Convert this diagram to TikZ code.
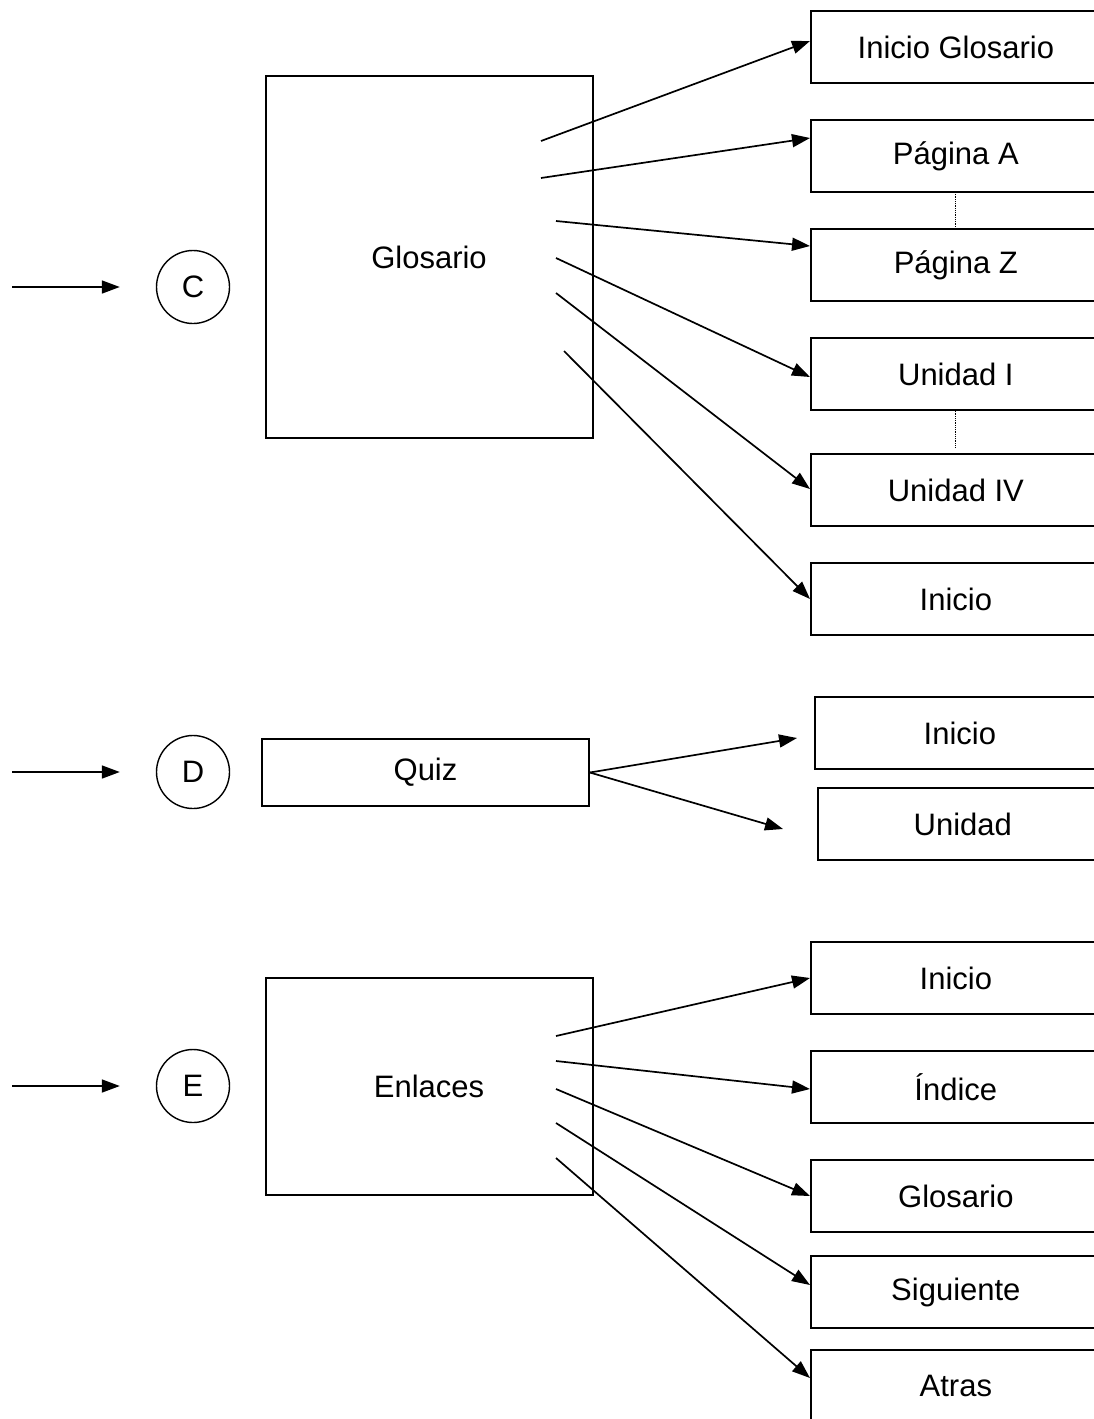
\documentclass[tikz,border=0pt]{standalone}
\usepackage{fontspec}
\setmainfont{Liberation Sans}
\usetikzlibrary{arrows.meta,calc}
\begin{document}
\begin{tikzpicture}[x=1pt,y=-1pt,
  every node/.style={font=\fontsize{31}{36}\selectfont},
  page/.style={draw,line width=1.7pt,rectangle,anchor=west,minimum width=290pt,minimum height=72pt,inner sep=0pt},
  main/.style={draw,line width=1.7pt,rectangle,inner sep=0pt},
  mark circle/.style={draw,line width=1.4pt,circle,minimum size=73pt,inner sep=0pt},
  link/.style={line width=1.7pt,-{Triangle[length=18pt,width=13pt]}},
  gap/.style={line width=0.8pt,densely dotted}]
\useasboundingbox (0,0) rectangle (1094,1419);

% --- section C: glossary ---
\node[mark circle] (C) at (193,287) {C};
\coordinate (inC) at (12,287);
\draw[link] (inC) -- ($(C.west)+(-36,0)$);
\node[main,minimum width=327pt,minimum height=362pt] (glos) at (429.5,257) {};
\node at (429,257) {Glosario};

\node[page] (ig) at (810,47) {Inicio Glosario};
\node[page] (pa) at (810,156) {Página A};
\node[page] (pz) at (810,265) {Página Z};
\node[page] (u1) at (810,374) {Unidad I};
\node[page] (u4) at (810,490) {Unidad IV};
\node[page] (ini1) at (810,599) {Inicio};

\coordinate (g1) at (541,141);
\coordinate (g2) at (541,178);
\coordinate (g3) at (556,221);
\coordinate (g4) at (556,258);
\coordinate (g5) at (556,293);
\coordinate (g6) at (564,351);
\draw[link] (g1) -- ($(ig.west)+(0,-6)$);
\draw[link] (g2) -- ($(pa.west)+(0,-18)$);
\draw[link] (g3) -- ($(pz.west)+(0,-19)$);
\draw[link] (g4) -- ($(u1.west)+(0,3)$);
\draw[link] (g5) -- ($(u4.west)+(0,-1)$);
\draw[link] (g6) -- (ini1.west);

\coordinate (dotA) at (955,192);
\coordinate (dotB) at (955,447);
\draw[gap] (dotA) -- (dotA |- pz.north);
\draw[gap] (dotA |- u1.south) -- (dotB);

% --- section D: quiz ---
\node[mark circle] (D) at (193,772) {D};
\coordinate (inD) at (12,772);
\draw[link] (inD) -- ($(D.west)+(-36,0)$);
\node[main,minimum width=327pt,minimum height=67pt] (quiz) at (425.5,772.5) {Quiz};
\node[page] (ini2) at (814,733) {Inicio};
\node[page] (uni) at (817,824) {Unidad};
\coordinate (q1) at (797,738);
\coordinate (q2) at (783,829);
\draw[link] (quiz.east) -- (q1);
\draw[link] (quiz.east) -- (q2);

% --- section E: links ---
\node[mark circle] (E) at (193,1086) {E};
\coordinate (inE) at (12,1086);
\draw[link] (inE) -- ($(E.west)+(-36,0)$);
\node[main,minimum width=327pt,minimum height=217pt] (enl) at (429.5,1086.5) {};
\node at (429,1086) {Enlaces};

\node[page] (ini3) at (810,978) {Inicio};
\node[page] (ind) at (810,1087) {Índice};
\node[page] (glo2) at (810,1196) {Glosario};
\node[page] (sig) at (810,1292) {Siguiente};
\node[page] (atr) at (810,1386) {Atras};

\coordinate (e1) at (556,1036);
\coordinate (e2) at (556,1061);
\coordinate (e3) at (556,1089);
\coordinate (e4) at (556,1123);
\coordinate (e5) at (556,1158);
\draw[link] (e1) -- (ini3.west);
\draw[link] (e2) -- ($(ind.west)+(0,2)$);
\draw[link] (e3) -- (glo2.west);
\draw[link] (e4) -- ($(sig.west)+(0,-7)$);
\draw[link] (e5) -- ($(atr.west)+(0,-8)$);
\end{tikzpicture}
\end{document}
